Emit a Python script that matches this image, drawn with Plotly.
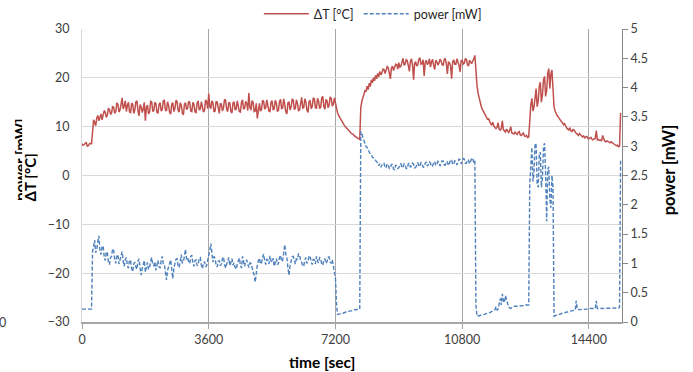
import plotly.graph_objects as go

# Logger clock: one reading every 30 s from 0 to 15300 s
time_s = list(range(0, 15301, 30))

# Temperature difference ΔT [°C] (left axis), 20 readings per row (10 min)
delta_t = [
    6.5, 6.2, 6.3, 6.7, 6.8, 6.0, 6.1, 6.5, 6.6, 6.4, 9.8, 11.4, 10.9, 10.2, 11.8, 12.3, 11.2, 12.0, 12.6, 11.4,
    12.1, 13.3, 13.0, 11.9, 12.4, 13.8, 13.5, 12.5, 12.8, 14.2, 13.9, 12.7, 13.1, 14.9, 14.6, 13.0, 13.4, 15.1, 15.9, 13.6,
    14.2, 15.3, 13.1, 14.4, 15.0, 13.0, 12.9, 14.8, 14.6, 12.7, 13.4, 15.1, 15.3, 13.2, 12.2, 14.5, 14.1, 12.9, 13.6, 15.0,
    11.2, 14.0, 14.4, 12.6, 13.0, 15.2, 15.1, 13.1, 13.3, 15.0, 14.7, 12.9, 12.8, 14.6, 14.9, 13.2, 13.5, 15.3, 15.4, 13.4,
    13.2, 15.1, 14.3, 12.9, 12.6, 14.7, 14.8, 13.1, 13.7, 15.4, 15.2, 13.3, 13.0, 14.9, 14.5, 12.8, 12.4, 14.6, 14.9, 13.5,
    13.8, 15.2, 15.0, 13.2, 13.1, 15.0, 14.6, 13.0, 12.9, 14.8, 15.3, 13.4, 13.6, 15.1, 14.2, 13.0, 13.3, 15.5, 15.1, 13.7,
    16.8, 14.1, 13.7, 15.3, 14.9, 13.0, 13.2, 15.2, 15.0, 13.3, 12.7, 14.8, 14.6, 13.2, 13.9, 15.6, 15.4, 13.5, 13.1, 15.0,
    14.8, 13.1, 12.8, 14.9, 15.1, 13.4, 13.6, 15.3, 14.3, 13.1, 13.0, 15.0, 15.5, 13.6, 13.8, 15.2, 14.7, 13.3, 16.9, 14.0,
    13.4, 15.3, 15.0, 13.1, 13.2, 14.8, 11.7, 13.9, 14.8, 13.2, 13.5, 15.4, 15.2, 13.6, 13.9, 15.5, 14.4, 13.2, 13.1, 15.0,
    15.3, 13.5, 13.6, 15.4, 14.9, 13.2, 13.3, 15.1, 15.6, 13.7, 13.8, 15.7, 14.5, 13.0, 12.6, 14.9, 15.1, 13.4, 14.0, 15.6,
    15.5, 13.6, 13.7, 15.5, 14.8, 13.3, 13.4, 15.2, 16.0, 13.8, 13.9, 15.7, 15.0, 13.4, 12.9, 15.1, 15.4, 13.7, 14.1, 15.9,
    15.7, 13.9, 13.8, 15.8, 15.2, 13.7, 14.0, 15.9, 16.2, 14.1, 13.6, 15.6, 15.3, 13.9, 14.4, 16.1, 15.8, 14.2, 14.6, 15.9,
    14.6, 13.5, 12.8, 12.3, 11.9, 11.3, 11.0, 10.8, 10.4, 10.1, 9.9, 9.5, 9.3, 9.2, 8.9, 8.6, 8.5, 8.4, 8.1, 7.9,
    7.8, 7.6, 7.5, 7.4, 13.9, 15.2, 16.0, 16.8, 17.4, 17.2, 18.3, 17.6, 18.9, 18.2, 19.6, 19.0, 20.0, 19.4, 20.5, 19.8,
    20.9, 20.2, 21.3, 20.6, 21.0, 21.8, 21.7, 20.9, 21.5, 22.3, 22.1, 21.2, 19.8, 22.0, 22.4, 21.5, 22.0, 22.8, 22.7, 21.8,
    23.1, 22.2, 22.4, 23.6, 24.0, 22.6, 22.8, 23.7, 23.5, 22.5, 21.3, 23.4, 23.9, 22.6, 19.6, 23.0, 23.2, 22.4, 22.7, 23.8,
    24.1, 22.8, 22.9, 23.7, 20.4, 23.1, 23.6, 22.7, 23.0, 23.9, 22.2, 23.3, 23.8, 22.5, 21.7, 23.6, 23.3, 22.6, 23.0, 23.8,
    23.5, 22.7, 22.6, 23.8, 23.9, 22.9, 20.8, 23.2, 23.1, 22.4, 19.8, 23.3, 23.7, 22.8, 22.8, 23.9, 23.4, 22.6, 21.2, 23.5,
    23.6, 22.8, 23.0, 23.9, 23.8, 22.7, 22.4, 23.6, 23.2, 22.9, 23.5, 23.8, 24.6, 21.0, 18.5, 16.9, 15.8, 14.9, 14.2, 13.6,
    13.2, 12.8, 12.3, 11.8, 11.5, 11.6, 11.0, 10.6, 10.4, 10.9, 10.1, 9.8, 9.6, 9.9, 10.8, 9.5, 9.3, 9.6, 11.2, 9.4,
    9.1, 8.9, 9.5, 9.0, 8.8, 9.2, 10.0, 8.7, 8.6, 8.5, 8.9, 8.6, 8.4, 8.8, 9.0, 8.3, 8.2, 8.5, 8.7, 8.1,
    8.0, 8.2, 7.8, 7.9, 12.6, 14.5, 15.8, 13.2, 14.0, 16.6, 17.8, 14.1, 15.2, 18.3, 19.1, 15.0, 16.5, 19.6, 20.3, 16.2,
    17.4, 20.9, 21.9, 17.8, 20.8, 21.6, 15.8, 14.0, 13.2, 12.6, 12.2, 12.0, 11.6, 11.3, 11.0, 10.8, 10.4, 10.6, 10.0, 9.7,
    9.5, 9.3, 9.8, 9.1, 9.0, 9.4, 9.3, 8.8, 8.6, 8.5, 8.2, 8.6, 8.4, 8.0, 7.9, 8.1, 7.7, 7.9, 8.0, 7.6,
    7.5, 7.7, 7.8, 7.4, 7.3, 7.5, 7.6, 9.2, 7.3, 7.4, 7.2, 7.3, 7.1, 8.2, 7.3, 7.0, 6.9, 7.1, 7.0, 6.8,
    6.7, 6.9, 6.8, 6.6, 6.4, 6.3, 6.1, 6.2, 5.9, 6.0, 12.8,
]

# Heating power [mW] (right axis), 20 readings per row (10 min)
power_mw = [
    0.22, 0.22, 0.22, 0.22, 0.22, 0.22, 0.22, 0.22, 0.22, 0.22, 1.20, 1.32, 1.40, 1.18, 1.25, 1.38, 1.47, 1.22, 1.15, 1.28,
    1.30, 1.12, 1.05, 1.20, 1.18, 1.02, 0.98, 1.10, 1.12, 1.25, 1.22, 1.06, 1.00, 1.13, 1.15, 0.99, 1.08, 1.17, 1.20, 1.04,
    0.95, 1.07, 1.10, 0.96, 0.92, 1.06, 1.05, 0.91, 0.86, 0.99, 1.02, 0.94, 0.90, 1.04, 1.08, 0.93, 0.80, 0.91, 0.97, 1.05,
    0.85, 0.94, 1.02, 0.90, 0.93, 1.04, 1.10, 0.97, 0.96, 1.03, 0.88, 0.97, 1.05, 0.94, 0.92, 1.06, 1.12, 0.99, 0.98, 0.86,
    0.72, 0.88, 0.95, 1.03, 1.06, 0.90, 0.74, 0.92, 0.99, 1.07, 1.08, 0.96, 0.93, 1.05, 1.15, 1.01, 1.02, 1.13, 1.24, 1.07,
    1.10, 1.02, 1.00, 1.12, 1.14, 1.01, 0.95, 1.05, 1.06, 0.96, 0.98, 1.09, 1.10, 0.97, 0.91, 1.00, 1.03, 0.94, 0.96, 1.05,
    1.12, 1.22, 1.34, 1.10, 1.02, 1.12, 1.09, 0.97, 0.94, 1.03, 1.05, 0.96, 0.99, 1.08, 1.11, 0.98, 0.92, 0.99, 1.03, 1.10,
    0.96, 1.05, 1.08, 0.97, 1.01, 0.93, 0.90, 0.99, 1.04, 1.09, 0.97, 0.92, 1.12, 1.02, 0.95, 1.04, 1.06, 0.98, 0.93, 1.01,
    1.00, 0.93, 0.88, 0.80, 0.68, 0.85, 0.97, 1.04, 1.09, 0.99, 1.01, 1.10, 1.16, 1.05, 0.98, 1.07, 1.06, 0.99, 1.13, 1.04,
    1.02, 1.09, 0.95, 1.01, 1.08, 0.98, 1.00, 1.10, 1.14, 1.03, 1.05, 1.18, 1.32, 1.15, 1.10, 0.92, 0.80, 0.96, 1.04, 1.11,
    1.12, 1.03, 0.99, 1.08, 1.07, 1.16, 1.15, 1.04, 1.02, 0.95, 0.96, 1.06, 1.10, 1.00, 1.04, 1.12, 1.13, 1.02, 0.98, 1.07,
    1.06, 0.99, 1.12, 1.04, 1.01, 1.10, 1.09, 0.98, 0.97, 1.06, 1.08, 1.00, 1.03, 1.10, 1.11, 1.02, 1.00, 1.06, 0.95, 0.88,
    0.75, 0.30, 0.13, 0.13, 0.14, 0.14, 0.15, 0.15, 0.16, 0.16, 0.17, 0.17, 0.18, 0.18, 0.19, 0.19, 0.20, 0.20, 0.21, 0.21,
    0.21, 0.22, 0.22, 0.22, 3.25, 3.22, 3.15, 3.08, 3.05, 2.99, 2.98, 2.92, 2.90, 2.86, 2.85, 2.81, 2.80, 2.77, 2.76, 2.73,
    2.72, 2.67, 2.70, 2.64, 2.67, 2.71, 2.71, 2.63, 2.64, 2.70, 2.68, 2.62, 2.62, 2.69, 2.69, 2.61, 2.60, 2.68, 2.66, 2.62,
    2.63, 2.69, 2.70, 2.63, 2.65, 2.70, 2.68, 2.62, 2.62, 2.70, 2.71, 2.64, 2.66, 2.71, 2.69, 2.63, 2.64, 2.70, 2.72, 2.65,
    2.67, 2.72, 2.70, 2.64, 2.65, 2.71, 2.73, 2.66, 2.68, 2.73, 2.71, 2.65, 2.66, 2.72, 2.74, 2.67, 2.69, 2.74, 2.72, 2.66,
    2.70, 2.75, 2.75, 2.68, 2.68, 2.74, 2.73, 2.67, 2.71, 2.77, 2.76, 2.69, 2.69, 2.75, 2.74, 2.68, 2.72, 2.78, 2.77, 2.70,
    2.73, 2.79, 2.78, 2.71, 2.71, 2.77, 2.76, 2.70, 2.74, 2.80, 2.79, 2.72, 2.75, 0.30, 0.10, 0.10, 0.11, 0.11, 0.12, 0.12,
    0.13, 0.13, 0.14, 0.14, 0.15, 0.15, 0.16, 0.17, 0.18, 0.18, 0.19, 0.21, 0.26, 0.20, 0.22, 0.31, 0.40, 0.29, 0.48, 0.36,
    0.33, 0.45, 0.38, 0.30, 0.25, 0.24, 0.23, 0.25, 0.26, 0.26, 0.27, 0.27, 0.27, 0.27, 0.28, 0.28, 0.28, 0.28, 0.28, 0.28,
    0.29, 0.29, 0.29, 0.29, 2.35, 2.80, 2.98, 2.40, 2.55, 3.05, 3.02, 2.35, 2.30, 2.85, 2.90, 2.30, 2.45, 3.00, 3.05, 2.55,
    1.72, 2.60, 2.65, 2.10, 1.95, 2.50, 2.30, 0.10, 0.11, 0.12, 0.12, 0.13, 0.13, 0.14, 0.14, 0.15, 0.15, 0.16, 0.16, 0.17,
    0.17, 0.18, 0.18, 0.19, 0.19, 0.20, 0.20, 0.20, 0.36, 0.21, 0.21, 0.21, 0.21, 0.22, 0.22, 0.22, 0.22, 0.22, 0.22, 0.22,
    0.23, 0.23, 0.23, 0.23, 0.23, 0.23, 0.23, 0.36, 0.23, 0.23, 0.23, 0.23, 0.23, 0.23, 0.23, 0.23, 0.24, 0.24, 0.24, 0.24,
    0.24, 0.24, 0.24, 0.24, 0.24, 0.24, 0.24, 0.24, 0.24, 0.25, 2.75,
]

x_ticks = [0, 3600, 7200, 10800, 14400]
x_grid = [3600, 7200, 10800, 14400]

RED = "#C0504D"
BLUE = "#4F81BD"
FONT = "Lato"
TEXT = "#404040"

fig = go.Figure()
fig.add_trace(go.Scatter(
    x=time_s, y=delta_t, name="ΔT [°C]", mode="lines",
    line=dict(color=RED, width=1.5),
))
fig.add_trace(go.Scatter(
    x=time_s, y=power_mw, name="power [mW]", mode="lines", yaxis="y2",
    line=dict(color=BLUE, width=1.4, dash="4px,2px"),
))

fig.update_layout(
    width=693, height=372,
    margin=dict(l=82, r=70.5, t=28.5, b=49.5, autoexpand=False),
    paper_bgcolor="white", plot_bgcolor="white",
    font=dict(family=FONT, size=12.5, color=TEXT),
    showlegend=True,
    legend=dict(
        orientation="h", xref="container", yref="container",
        x=0.538, xanchor="center", y=0.962, yanchor="middle",
        font=dict(size=12.5, color="#262626"), bgcolor="rgba(0,0,0,0)",
        itemwidth=45,
    ),
    xaxis=dict(
        range=[0, 15340], tickvals=x_ticks, tickformat="d",
        showgrid=False,
        minor=dict(tickvals=x_grid, showgrid=True, gridcolor="#A6A6A6", gridwidth=1.2),
        showline=True, linecolor="#A6A6A6", linewidth=1.5,
        ticks="outside", ticklen=5, tickcolor="#A6A6A6", zeroline=False,
    ),
    yaxis=dict(
        range=[-30, 30], dtick=10,
        showgrid=True, gridcolor="#D9D9D9", gridwidth=1,
        showline=True, linecolor="#D9D9D9", linewidth=1.2, zeroline=False,
        ticks="outside", ticklen=9, tickcolor="rgba(0,0,0,0)",
    ),
    yaxis2=dict(
        overlaying="y", side="right", range=[0, 5], dtick=0.5,
        showgrid=False, showline=True, linecolor="#868686", linewidth=1,
        ticks="outside", ticklen=5, tickcolor="#868686", zeroline=False,
    ),
)


def title_font(size):
    return dict(family=FONT, size=size, color="#000000")


annotations = [
    # x axis title
    dict(text="<b>time [sec]</b>", x=0.444, y=-0.138, xref="paper", yref="paper",
         xanchor="center", yanchor="middle", showarrow=False, font=title_font(15.5)),
    # right axis title
    dict(text="<b>power [mW]</b>", x=1.086, y=0.519, xref="paper", yref="paper",
         xanchor="center", yanchor="middle", textangle=-90, showarrow=False,
         font=title_font(16.5)),
    # left axis titles: the power label sits underneath the ΔT label
    dict(text="<b>power [mW]</b>", x=-0.1147, y=0.4065, xref="paper", yref="paper",
         xanchor="center", yanchor="bottom", textangle=-90, showarrow=False,
         font=title_font(15)),
    dict(text="<b>ΔT [°C]</b>", x=-0.0953, y=0.4065, xref="paper", yref="paper",
         xanchor="center", yanchor="bottom", textangle=-90, showarrow=False,
         width=92, height=15, align="left", bgcolor="white", borderpad=0,
         font=title_font(15)),
    # stray label at the left edge
    dict(text="0", x=-0.148, y=-0.002, xref="paper", yref="paper",
         xanchor="center", yanchor="middle", showarrow=False,
         font=dict(family=FONT, size=12.5, color=TEXT)),
]
fig.update_layout(annotations=annotations)

fig.write_html("out.html")
